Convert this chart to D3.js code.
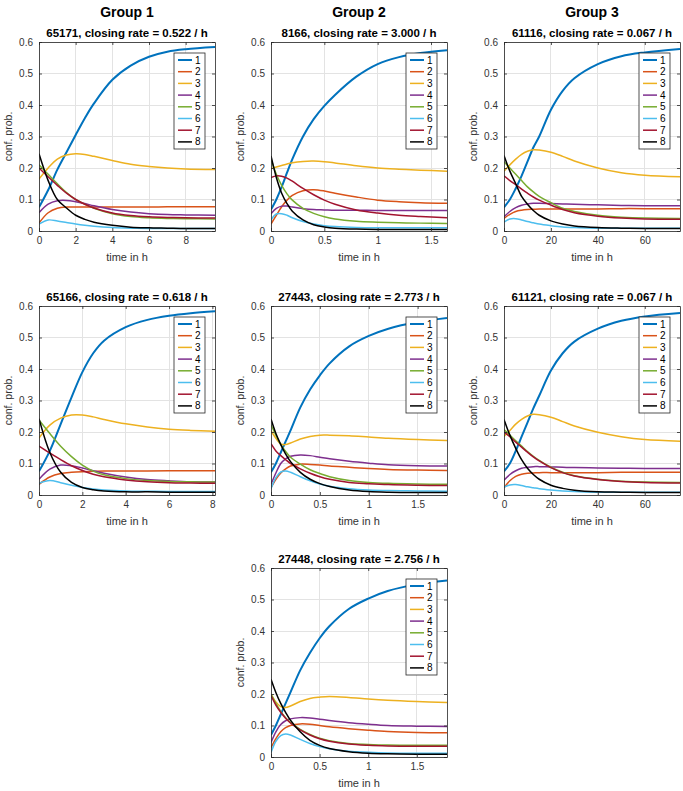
<!DOCTYPE html>
<html>
<head>
<meta charset="utf-8">
<script src="https://cdn.jsdelivr.net/npm/d3@7"></script>
<style>
  html, body { margin: 0; padding: 0; background: #fff; }
  svg { display: block; font-family: "Liberation Sans", Arial, Helvetica, sans-serif; }
</style>
</head>
<body>
<svg id="chart" width="683" height="791"></svg>
<script>
// ---------------- data ----------------
const seriesNames = ["1", "2", "3", "4", "5", "6", "7", "8"];
const seriesColors = ["#0072BD", "#D95319", "#EDB120", "#7E2F8E", "#77AC30", "#4DBEEE", "#A2142F", "#000000"];
const groupTitles = ["Group 1", "Group 2", "Group 3"];
const panelIds = ["65171", "8166", "61116", "65166", "27443", "61121", "27448"];
const closingRates = ["0.522", "3.000", "0.067", "0.618", "2.773", "0.067", "2.756"];
const xMax = [9.6, 1.65, 75, 8.12, 1.8, 75, 1.81];
const xTicks = [
  [0, 2, 4, 6, 8], [0, 0.5, 1, 1.5], [0, 20, 40, 60],
  [0, 2, 4, 6, 8], [0, 0.5, 1, 1.5], [0, 20, 40, 60],
  [0, 0.5, 1, 1.5]
];
const yTicks = [0, 0.1, 0.2, 0.3, 0.4, 0.5, 0.6];

// panel 65171
const time65171 = [0, 0.5, 1, 1.5, 2, 2.5, 3, 4, 5, 6, 7, 8, 9.6];
const prob65171 = [
  [0.075, 0.13, 0.195, 0.25, 0.305, 0.358, 0.405, 0.48, 0.525, 0.553, 0.569, 0.577, 0.584],
  [0.025, 0.058, 0.072, 0.076, 0.076, 0.076, 0.076, 0.076, 0.076, 0.076, 0.077, 0.077, 0.077],
  [0.165, 0.20, 0.228, 0.241, 0.245, 0.243, 0.237, 0.224, 0.212, 0.205, 0.20, 0.197, 0.195],
  [0.058, 0.085, 0.096, 0.097, 0.093, 0.087, 0.08, 0.068, 0.06, 0.055, 0.052, 0.051, 0.05],
  [0.21, 0.18, 0.15, 0.122, 0.10, 0.085, 0.072, 0.055, 0.046, 0.042, 0.04, 0.039, 0.038],
  [0.022, 0.035, 0.032, 0.027, 0.022, 0.018, 0.015, 0.011, 0.009, 0.008, 0.008, 0.008, 0.008],
  [0.20, 0.172, 0.145, 0.12, 0.10, 0.085, 0.073, 0.057, 0.049, 0.045, 0.043, 0.042, 0.041],
  [0.245, 0.16, 0.10, 0.073, 0.05, 0.037, 0.028, 0.018, 0.012, 0.01, 0.009, 0.008, 0.008]
];

// panel 8166
const time8166 = [0, 0.05, 0.1, 0.15, 0.2, 0.3, 0.4, 0.5, 0.6, 0.8, 1, 1.2, 1.4, 1.65];
const prob8166 = [
  [0.068, 0.10, 0.14, 0.185, 0.228, 0.30, 0.355, 0.397, 0.432, 0.49, 0.53, 0.552, 0.565, 0.574],
  [0.022, 0.05, 0.077, 0.098, 0.113, 0.128, 0.131, 0.127, 0.12, 0.108, 0.098, 0.093, 0.09, 0.088],
  [0.198, 0.203, 0.208, 0.213, 0.217, 0.221, 0.222, 0.22, 0.216, 0.207, 0.20, 0.196, 0.193, 0.19],
  [0.055, 0.072, 0.079, 0.079, 0.076, 0.071, 0.068, 0.067, 0.066, 0.066, 0.065, 0.065, 0.065, 0.065],
  [0.228, 0.18, 0.145, 0.118, 0.098, 0.072, 0.056, 0.045, 0.038, 0.031, 0.028, 0.026, 0.025, 0.024],
  [0.035, 0.054, 0.055, 0.05, 0.042, 0.03, 0.022, 0.017, 0.014, 0.011, 0.01, 0.01, 0.01, 0.01],
  [0.17, 0.175, 0.174, 0.168, 0.158, 0.135, 0.115, 0.098, 0.085, 0.067, 0.057, 0.05, 0.046, 0.042],
  [0.238, 0.17, 0.12, 0.087, 0.063, 0.035, 0.02, 0.013, 0.009, 0.006, 0.005, 0.005, 0.005, 0.005]
];

// panel 61116
const time61116 = [0, 2.5, 5, 7.5, 10, 12.5, 15, 20, 25, 30, 40, 50, 60, 75];
const prob61116 = [
  [0.075, 0.10, 0.135, 0.175, 0.22, 0.265, 0.30, 0.385, 0.445, 0.485, 0.53, 0.555, 0.567, 0.578],
  [0.04, 0.053, 0.062, 0.066, 0.068, 0.069, 0.07, 0.07, 0.07, 0.07, 0.07, 0.071, 0.071, 0.071],
  [0.19, 0.21, 0.228, 0.243, 0.253, 0.258, 0.257, 0.25, 0.237, 0.222, 0.20, 0.185, 0.177, 0.172],
  [0.045, 0.062, 0.074, 0.082, 0.086, 0.088, 0.088, 0.087, 0.086, 0.085, 0.083, 0.081, 0.08, 0.08],
  [0.22, 0.20, 0.18, 0.16, 0.14, 0.124, 0.11, 0.09, 0.072, 0.062, 0.05, 0.044, 0.041, 0.04],
  [0.028, 0.038, 0.039, 0.035, 0.03, 0.026, 0.022, 0.017, 0.013, 0.011, 0.009, 0.009, 0.009, 0.009],
  [0.175, 0.16, 0.147, 0.133, 0.12, 0.108, 0.098, 0.082, 0.068, 0.058, 0.047, 0.041, 0.038, 0.037],
  [0.24, 0.19, 0.15, 0.11, 0.085, 0.065, 0.05, 0.032, 0.022, 0.016, 0.011, 0.009, 0.008, 0.008]
];

// panel 65166
const time65166 = [0, 0.5, 1, 1.5, 2, 2.5, 3, 4, 5, 6, 7, 8.12];
const prob65166 = [
  [0.075, 0.14, 0.225, 0.31, 0.39, 0.45, 0.49, 0.533, 0.556, 0.569, 0.577, 0.583],
  [0.034, 0.057, 0.068, 0.072, 0.074, 0.075, 0.076, 0.076, 0.076, 0.077, 0.077, 0.077],
  [0.181, 0.222, 0.244, 0.254, 0.254, 0.248, 0.24, 0.226, 0.216, 0.209, 0.205, 0.202],
  [0.05, 0.082, 0.095, 0.093, 0.086, 0.077, 0.069, 0.057, 0.049, 0.045, 0.042, 0.041],
  [0.238, 0.195, 0.155, 0.122, 0.095, 0.076, 0.064, 0.052, 0.046, 0.043, 0.042, 0.041],
  [0.037, 0.046, 0.039, 0.031, 0.024, 0.019, 0.016, 0.013, 0.012, 0.011, 0.011, 0.011],
  [0.155, 0.133, 0.112, 0.093, 0.078, 0.066, 0.058, 0.048, 0.042, 0.039, 0.038, 0.037],
  [0.242, 0.135, 0.072, 0.04, 0.024, 0.017, 0.013, 0.01, 0.01, 0.009, 0.009, 0.009]
];

// panel 27443
const time27443 = [0, 0.05, 0.1, 0.15, 0.2, 0.3, 0.4, 0.5, 0.6, 0.8, 1, 1.2, 1.5, 1.8];
const prob27443 = [
  [0.072, 0.10, 0.135, 0.17, 0.205, 0.278, 0.335, 0.38, 0.418, 0.472, 0.505, 0.528, 0.549, 0.562],
  [0.023, 0.05, 0.07, 0.083, 0.092, 0.098, 0.097, 0.095, 0.092, 0.088, 0.084, 0.081, 0.079, 0.078],
  [0.204, 0.18, 0.162, 0.16, 0.165, 0.178, 0.186, 0.19, 0.19, 0.188, 0.184, 0.18, 0.176, 0.173],
  [0.034, 0.07, 0.10, 0.115, 0.123, 0.127, 0.125, 0.12, 0.115, 0.107, 0.101, 0.096, 0.093, 0.092],
  [0.223, 0.19, 0.16, 0.138, 0.12, 0.098, 0.08, 0.068, 0.058, 0.046, 0.04, 0.037, 0.035, 0.034],
  [0.02, 0.055, 0.073, 0.076, 0.072, 0.058, 0.045, 0.035, 0.028, 0.02, 0.016, 0.014, 0.013, 0.012],
  [0.163, 0.14, 0.125, 0.112, 0.10, 0.083, 0.069, 0.058, 0.05, 0.04, 0.036, 0.033, 0.031, 0.03],
  [0.241, 0.195, 0.16, 0.13, 0.106, 0.072, 0.05, 0.036, 0.027, 0.016, 0.011, 0.009, 0.008, 0.008]
];

// panel 61121
const time61121 = [0, 2.5, 5, 7.5, 10, 12.5, 15, 20, 25, 30, 40, 50, 60, 75];
const prob61121 = [
  [0.075, 0.10, 0.14, 0.185, 0.23, 0.275, 0.315, 0.395, 0.45, 0.487, 0.528, 0.553, 0.567, 0.578],
  [0.023, 0.045, 0.059, 0.066, 0.069, 0.07, 0.071, 0.071, 0.071, 0.071, 0.071, 0.072, 0.072, 0.072],
  [0.186, 0.205, 0.225, 0.24, 0.251, 0.256, 0.255, 0.247, 0.233, 0.219, 0.199, 0.185, 0.176, 0.171],
  [0.047, 0.065, 0.077, 0.085, 0.088, 0.09, 0.09, 0.089, 0.088, 0.087, 0.086, 0.085, 0.084, 0.084],
  [0.208, 0.19, 0.172, 0.155, 0.138, 0.123, 0.11, 0.088, 0.072, 0.061, 0.05, 0.044, 0.041, 0.04],
  [0.025, 0.032, 0.033, 0.03, 0.026, 0.023, 0.02, 0.016, 0.013, 0.011, 0.009, 0.009, 0.009, 0.009],
  [0.20, 0.185, 0.168, 0.152, 0.136, 0.121, 0.108, 0.087, 0.071, 0.06, 0.049, 0.043, 0.04, 0.038],
  [0.24, 0.19, 0.148, 0.112, 0.085, 0.065, 0.05, 0.031, 0.021, 0.015, 0.01, 0.009, 0.008, 0.008]
];

// panel 27448
const time27448 = [0, 0.05, 0.1, 0.15, 0.2, 0.3, 0.4, 0.5, 0.6, 0.8, 1, 1.2, 1.5, 1.81];
const prob27448 = [
  [0.07, 0.10, 0.135, 0.17, 0.205, 0.275, 0.33, 0.377, 0.415, 0.47, 0.503, 0.527, 0.548, 0.56],
  [0.03, 0.058, 0.08, 0.093, 0.10, 0.105, 0.104, 0.10, 0.096, 0.09, 0.085, 0.081, 0.078, 0.077],
  [0.20, 0.175, 0.16, 0.157, 0.162, 0.176, 0.186, 0.19, 0.192, 0.189, 0.184, 0.18, 0.176, 0.173],
  [0.046, 0.08, 0.103, 0.115, 0.121, 0.125, 0.124, 0.12, 0.116, 0.109, 0.104, 0.10, 0.098, 0.097],
  [0.20, 0.17, 0.145, 0.125, 0.11, 0.088, 0.072, 0.06, 0.052, 0.043, 0.04, 0.038, 0.037, 0.037],
  [0.014, 0.05, 0.068, 0.073, 0.07, 0.056, 0.043, 0.033, 0.026, 0.018, 0.015, 0.013, 0.012, 0.012],
  [0.195, 0.165, 0.142, 0.123, 0.108, 0.086, 0.07, 0.058, 0.05, 0.041, 0.037, 0.035, 0.034, 0.034],
  [0.247, 0.205, 0.17, 0.142, 0.117, 0.08, 0.053, 0.037, 0.027, 0.017, 0.012, 0.01, 0.009, 0.009]
];

const panelTimes = [time65171, time8166, time61116, time65166, time27443, time61121, time27448];
const panelProbs = [prob65171, prob8166, prob61116, prob65166, prob27443, prob61121, prob27448];

// ---------------- layout ----------------
const colLeft = [39, 271, 504];
const rowTop = [42, 306, 568];
const plotW = 176, plotH = 189;
const panelCell = [[0, 0], [1, 0], [2, 0], [0, 1], [1, 1], [2, 1], [1, 2]];
const axisColor = "#262626";
const gridColor = "#e3e3e3";

const svg = d3.select("#chart");

groupTitles.forEach((g, i) => {
  svg.append("text")
    .attr("x", colLeft[i] + plotW / 2)
    .attr("y", 17)
    .attr("text-anchor", "middle")
    .attr("font-size", 14)
    .attr("font-weight", "bold")
    .attr("fill", "#000")
    .text(g);
});

const fmt = v => String(+v.toFixed(2));

panelIds.forEach((id, p) => {
  const [c, r] = panelCell[p];
  const left = colLeft[c], top = rowTop[r];
  const g = svg.append("g").attr("transform", `translate(${left},${top})`);

  const x = d3.scaleLinear().domain([0, xMax[p]]).range([0, plotW]);
  const y = d3.scaleLinear().domain([0, 0.6]).range([plotH, 0]);

  g.append("rect").attr("width", plotW).attr("height", plotH).attr("fill", "#fff");

  g.append("g").selectAll("line").data(xTicks[p]).join("line")
    .attr("x1", d => x(d)).attr("x2", d => x(d))
    .attr("y1", 0).attr("y2", plotH)
    .attr("stroke", gridColor).attr("stroke-width", 1).attr("shape-rendering", "crispEdges");
  g.append("g").selectAll("line").data(yTicks).join("line")
    .attr("y1", d => y(d)).attr("y2", d => y(d))
    .attr("x1", 0).attr("x2", plotW)
    .attr("stroke", gridColor).attr("stroke-width", 1).attr("shape-rendering", "crispEdges");

  const clipId = "clip" + p;
  g.append("clipPath").attr("id", clipId)
    .append("rect").attr("width", plotW).attr("height", plotH);

  const times = panelTimes[p];
  const line = d3.line()
    .x((d, i) => x(times[i]))
    .y(d => y(d))
    .curve(d3.curveCatmullRom.alpha(0.5));

  const lines = g.append("g").attr("clip-path", `url(#${clipId})`);
  panelProbs[p].forEach((vals, s) => {
    lines.append("path")
      .datum(vals)
      .attr("d", line)
      .attr("fill", "none")
      .attr("stroke", seriesColors[s])
      .attr("stroke-width", s === 0 ? 2 : 1.5)
      .attr("stroke-linejoin", "round");
  });

  const axB = d3.axisBottom(x).tickValues(xTicks[p]).tickFormat(fmt).tickSizeInner(-3).tickSizeOuter(0).tickPadding(6);
  const axT = d3.axisTop(x).tickValues(xTicks[p]).tickFormat("").tickSizeInner(-3).tickSizeOuter(0);
  const axL = d3.axisLeft(y).tickValues(yTicks).tickFormat(fmt).tickSizeInner(-3).tickSizeOuter(0).tickPadding(6);
  const axR = d3.axisRight(y).tickValues(yTicks).tickFormat("").tickSizeInner(-3).tickSizeOuter(0);

  const styleAxis = sel => {
    sel.selectAll("path.domain").attr("stroke", axisColor).attr("stroke-width", 0.8);
    sel.selectAll(".tick line").attr("stroke", axisColor).attr("stroke-width", 0.8);
    sel.selectAll(".tick text").attr("fill", "#333").attr("font-size", 10)
      .attr("font-family", "'Liberation Sans', Arial, Helvetica, sans-serif");
  };
  g.append("g").attr("transform", `translate(0,${plotH})`).call(axB).call(styleAxis);
  g.append("g").call(axT).call(styleAxis);
  g.append("g").call(axL).call(styleAxis);
  g.append("g").attr("transform", `translate(${plotW},0)`).call(axR).call(styleAxis);

  g.append("text")
    .attr("x", plotW / 2).attr("y", -5)
    .attr("text-anchor", "middle")
    .attr("font-size", 11.5).attr("font-weight", "bold").attr("fill", "#000")
    .text(`${id}, closing rate = ${closingRates[p]} / h`);

  g.append("text")
    .attr("x", plotW / 2).attr("y", plotH + 30)
    .attr("text-anchor", "middle")
    .attr("font-size", 11).attr("fill", "#333")
    .text("time in h");
  g.append("text")
    .attr("transform", `translate(-27,${plotH / 2}) rotate(-90)`)
    .attr("text-anchor", "middle")
    .attr("font-size", 10.5).attr("fill", "#333")
    .text("conf. prob.");

  const lgW = 31, lgH = 96, rowH = 11.7;
  const lgX = plotW - 10 - lgW, lgY = 11;
  const lg = g.append("g").attr("transform", `translate(${lgX},${lgY})`);
  lg.append("rect").attr("width", lgW).attr("height", lgH)
    .attr("fill", "#fff").attr("stroke", axisColor).attr("stroke-width", 0.8);
  seriesNames.forEach((name, s) => {
    const yy = 7 + s * rowH;
    lg.append("line")
      .attr("x1", 4).attr("x2", 18).attr("y1", yy).attr("y2", yy)
      .attr("stroke", seriesColors[s]).attr("stroke-width", s === 0 ? 2 : 1.5);
    lg.append("text")
      .attr("x", 21).attr("y", yy).attr("dy", "0.35em")
      .attr("font-size", 10).attr("fill", "#000")
      .text(name);
  });
});
</script>
</body>
</html>
